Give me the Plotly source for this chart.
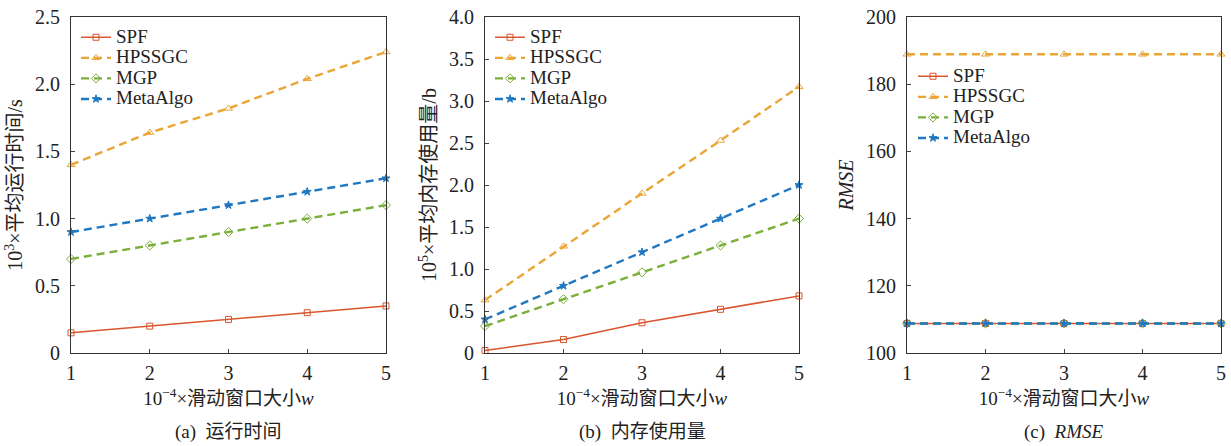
import plotly.graph_objects as go

x_w = [1, 2, 3, 4, 5]
series_names = ["SPF", "HPSSGC", "MGP", "MetaAlgo"]

# (a) runtime, 10^3 s
time_spf = [0.15, 0.20, 0.25, 0.30, 0.35]
time_hps = [1.40, 1.64, 1.82, 2.04, 2.24]
time_mgp = [0.70, 0.80, 0.90, 1.00, 1.10]
time_meta = [0.90, 1.00, 1.10, 1.20, 1.30]

# (b) memory, 10^5 b
mem_spf = [0.03, 0.16, 0.36, 0.52, 0.68]
mem_hps = [0.63, 1.27, 1.90, 2.53, 3.17]
mem_mgp = [0.32, 0.64, 0.96, 1.28, 1.60]
mem_meta = [0.40, 0.80, 1.20, 1.60, 2.00]

# (c) RMSE
rmse_spf = [108.8, 108.8, 108.8, 108.8, 108.8]
rmse_hps = [188.9, 188.9, 188.9, 188.9, 188.9]
rmse_mgp = [108.8, 108.8, 108.8, 108.8, 108.8]
rmse_meta = [108.8, 108.8, 108.8, 108.8, 108.8]

ytick_a = [0, 0.5, 1.0, 1.5, 2.0, 2.5]
ytext_a = ["0", "0.5", "1.0", "1.5", "2.0", "2.5"]
ytick_b = [0, 0.5, 1.0, 1.5, 2.0, 2.5, 3.0, 3.5, 4.0]
ytext_b = ["0", "0.5", "1.0", "1.5", "2.0", "2.5", "3.0", "3.5", "4.0"]
ytick_c = [100, 120, 140, 160, 180, 200]

colors = ["#D9552D", "#EBA535", "#7AAF3A", "#1F78C1"]
dashes = ["solid", "8px,5px", "8px,5px", "8px,5px"]
widths = [1.5, 2.4, 2.4, 2.4]
symbols = ["square-open", "triangle-up-open", "diamond-open", "star"]
msizes = [6, 7, 7, 6]

FONT = "Liberation Serif, Times New Roman, Noto Sans CJK SC, serif"
W, H = 1231, 446

fig = go.Figure()

panels = [
    ([time_spf, time_hps, time_mgp, time_meta], "", "legend"),
    ([mem_spf, mem_hps, mem_mgp, mem_meta], "2", "legend2"),
    ([rmse_spf, rmse_hps, rmse_mgp, rmse_meta], "3", "legend3"),
]
for data, suf, leg in panels:
    for i, name in enumerate(series_names):
        fig.add_trace(go.Scatter(
            x=x_w, y=data[i],
            name='<span style="font-size:19px">' + name + '</span>',
            mode="lines+markers",
            line=dict(color=colors[i], width=widths[i], dash=dashes[i]),
            marker=dict(symbol=symbols[i], size=msizes[i], color=colors[i],
                        line=dict(color=colors[i], width=1)),
            xaxis="x" + suf, yaxis="y" + suf, legend=leg,
            cliponaxis=False,
        ))

ytop = 1 - 17 / H
ybot = 1 - 353 / H
xdoms = [(71 / W, 386 / W), (485 / W, 799 / W), (907 / W, 1221 / W)]

def xax(dom, anchor):
    return dict(domain=dom, anchor=anchor, range=[1, 5], tickvals=x_w,
                ticks="inside", ticklen=4, showline=True, linecolor="#333",
                linewidth=1.2, mirror=True, showgrid=False, zeroline=False,
                automargin=False, ticklabelstandoff=2,
                tickfont=dict(size=20, color="#222"),
                title=dict(text="10<sup>−4</sup>×滑动窗口大小<i>w</i>",
                           font=dict(size=19, color="#222"), standoff=8))

def yax(anchor, rng, tv, tt, title):
    return dict(domain=[ybot, ytop], anchor=anchor, range=rng, tickvals=tv,
                ticktext=tt, ticks="inside", ticklen=4, showline=True,
                linecolor="#333", linewidth=1.2, mirror=True, showgrid=False,
                zeroline=False, automargin=False, ticklabelstandoff=6,
                tickfont=dict(size=20, color="#222"),
                title=dict(text=title, font=dict(size=20, color="#222"), standoff=6))

leg_common = dict(bgcolor="rgba(0,0,0,0)", font=dict(size=13.5, color="#222"),
                  itemwidth=30, tracegroupgap=0, xanchor="left", yanchor="top")

fig.update_layout(
    width=W, height=H, paper_bgcolor="white", plot_bgcolor="white",
    margin=dict(l=0, r=0, t=0, b=0),
    font=dict(family=FONT, color="#222"),
    xaxis=xax(xdoms[0], "y"),
    xaxis2=xax(xdoms[1], "y2"),
    xaxis3=xax(xdoms[2], "y3"),
    yaxis=yax("x", [0, 2.5], ytick_a, ytext_a, "10<sup>3</sup>×平均运行时间/s"),
    yaxis2=yax("x2", [0, 4.0], ytick_b, ytext_b, "10<sup>5</sup>×平均内存使用量/b"),
    yaxis3=yax("x3", [100, 200], ytick_c, [str(v) for v in ytick_c], "<i>RMSE</i>"),
    legend=dict(x=76 / W, y=1 - 22 / H, **leg_common),
    legend2=dict(x=490 / W, y=1 - 22 / H, **leg_common),
    legend3=dict(x=913 / W, y=1 - 61 / H, **leg_common),
    showlegend=True,
)

captions = [("(a)  运行时间", (71 + 386) / 2 / W),
            ("(b)  内存使用量", (485 + 799) / 2 / W),
            ("(c)  <i>RMSE</i>", (907 + 1221) / 2 / W)]
for txt, xc in captions:
    fig.add_annotation(text=txt, x=xc, y=1 - 432 / H, xref="paper", yref="paper",
                       showarrow=False, font=dict(size=19, color="#222"),
                       xanchor="center", yanchor="middle")

fig.write_html("out.html", config={"displayModeBar": False},
               post_script="document.body.style.margin='0px';"
                           "document.body.style.overflow='hidden';")
